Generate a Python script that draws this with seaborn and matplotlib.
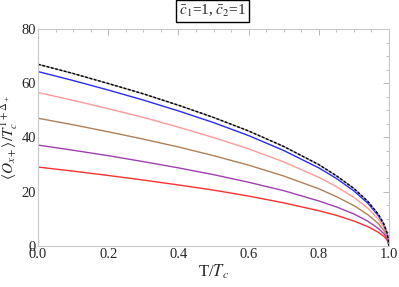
import numpy as np
import pandas as pd
import matplotlib
matplotlib.use("Agg")
import matplotlib.pyplot as plt
from matplotlib.ticker import MultipleLocator
import seaborn as sns

# T/Tc sample points
t_vals = [0.0, 0.1, 0.2, 0.3, 0.4, 0.5, 0.6, 0.7, 0.8, 0.85, 0.9, 0.94, 0.97, 0.985, 0.995, 1.0]

black_vals = [67.0, 63.6, 59.9, 56.1, 51.9, 47.4, 42.4, 36.7, 30.0, 25.9, 21.2, 16.4, 11.6, 8.2, 4.7, 0.0]
blue_vals = [64.3, 61.0, 57.5, 53.8, 49.8, 45.5, 40.7, 35.2, 28.8, 24.9, 20.3, 15.7, 11.1, 7.9, 4.5, 0.0]
pink_vals = [56.6, 53.7, 50.6, 47.4, 43.8, 40.0, 35.8, 31.0, 25.3, 21.9, 17.9, 13.9, 9.8, 6.9, 4.0, 0.0]
brown_vals = [47.1, 44.7, 42.1, 39.4, 36.5, 33.3, 29.8, 25.8, 21.1, 18.2, 14.9, 11.5, 8.2, 5.8, 3.3, 0.0]
purple_vals = [37.2, 35.3, 33.3, 31.1, 28.8, 26.3, 23.5, 20.4, 16.6, 14.4, 11.8, 9.1, 6.4, 4.6, 2.6, 0.0]
red_vals = [29.1, 27.6, 26.0, 24.3, 22.5, 20.6, 18.4, 15.9, 13.0, 11.3, 9.2, 7.1, 5.0, 3.6, 2.1, 0.0]

sns.set_style("white")
plt.rcParams["font.family"] = ["Liberation Serif", "DejaVu Serif"]
plt.rcParams["mathtext.fontset"] = "stix"

fig, ax = plt.subplots(figsize=(3.99, 2.87), dpi=100)
fig.subplots_adjust(left=0.0952, right=0.975, bottom=0.1429, top=0.899)

curves = [
    (red_vals, "#ff3030"),
    (purple_vals, "#a040b0"),
    (brown_vals, "#b08058"),
    (pink_vals, "#ff9a9a"),
    (blue_vals, "#2a2aff"),
]
for vals, col in curves:
    df = pd.DataFrame({"T": t_vals, "O": vals})
    sns.lineplot(data=df, x="T", y="O", ax=ax, color=col, lw=1.0)

df_black = pd.DataFrame({"T": t_vals, "O": black_vals})
sns.lineplot(data=df_black, x="T", y="O", ax=ax, color="#9a9a9a", lw=1.0)
sns.lineplot(data=df_black, x="T", y="O", ax=ax, color="black", lw=1.0, linestyle=(0, (2, 1.2)))

ax.set_xlim(0, 1)
ax.set_ylim(0, 80)
ax.xaxis.set_major_locator(MultipleLocator(0.2))
ax.xaxis.set_minor_locator(MultipleLocator(0.05))
ax.yaxis.set_major_locator(MultipleLocator(20))
ax.yaxis.set_minor_locator(MultipleLocator(5))
ax.set_xticklabels([f"{v:.1f}" for v in ax.get_xticks()])

for s in ax.spines.values():
    s.set_color("#c8c8c8")
    s.set_linewidth(0.8)
ax.tick_params(which="both", direction="in", top=True, right=True, color="#b8b8b8",
               labelsize=10.5, pad=1.5)
ax.tick_params(which="major", length=4, width=0.7)
ax.tick_params(which="minor", length=2, width=0.6)
ax.tick_params(labeltop=False, labelright=False)

ax.set_xlabel(r"T/$T_c$", fontsize=12)
ax.set_ylabel(r"$\langle O_{x+}\rangle/T_c^{1+\Delta_+}$", fontsize=11)
ax.xaxis.set_label_coords(0.5, -0.075)
ax.yaxis.set_label_coords(-0.05, 0.5)

fig.text(0.532, 0.962, r"$\bar{c}_1$=1, $\bar{c}_2$=1", ha="center", va="center",
         fontsize=11, bbox=dict(boxstyle="square,pad=0.2", fc="white", ec="black", lw=1.0))

fig.savefig("out.png", dpi=100)
